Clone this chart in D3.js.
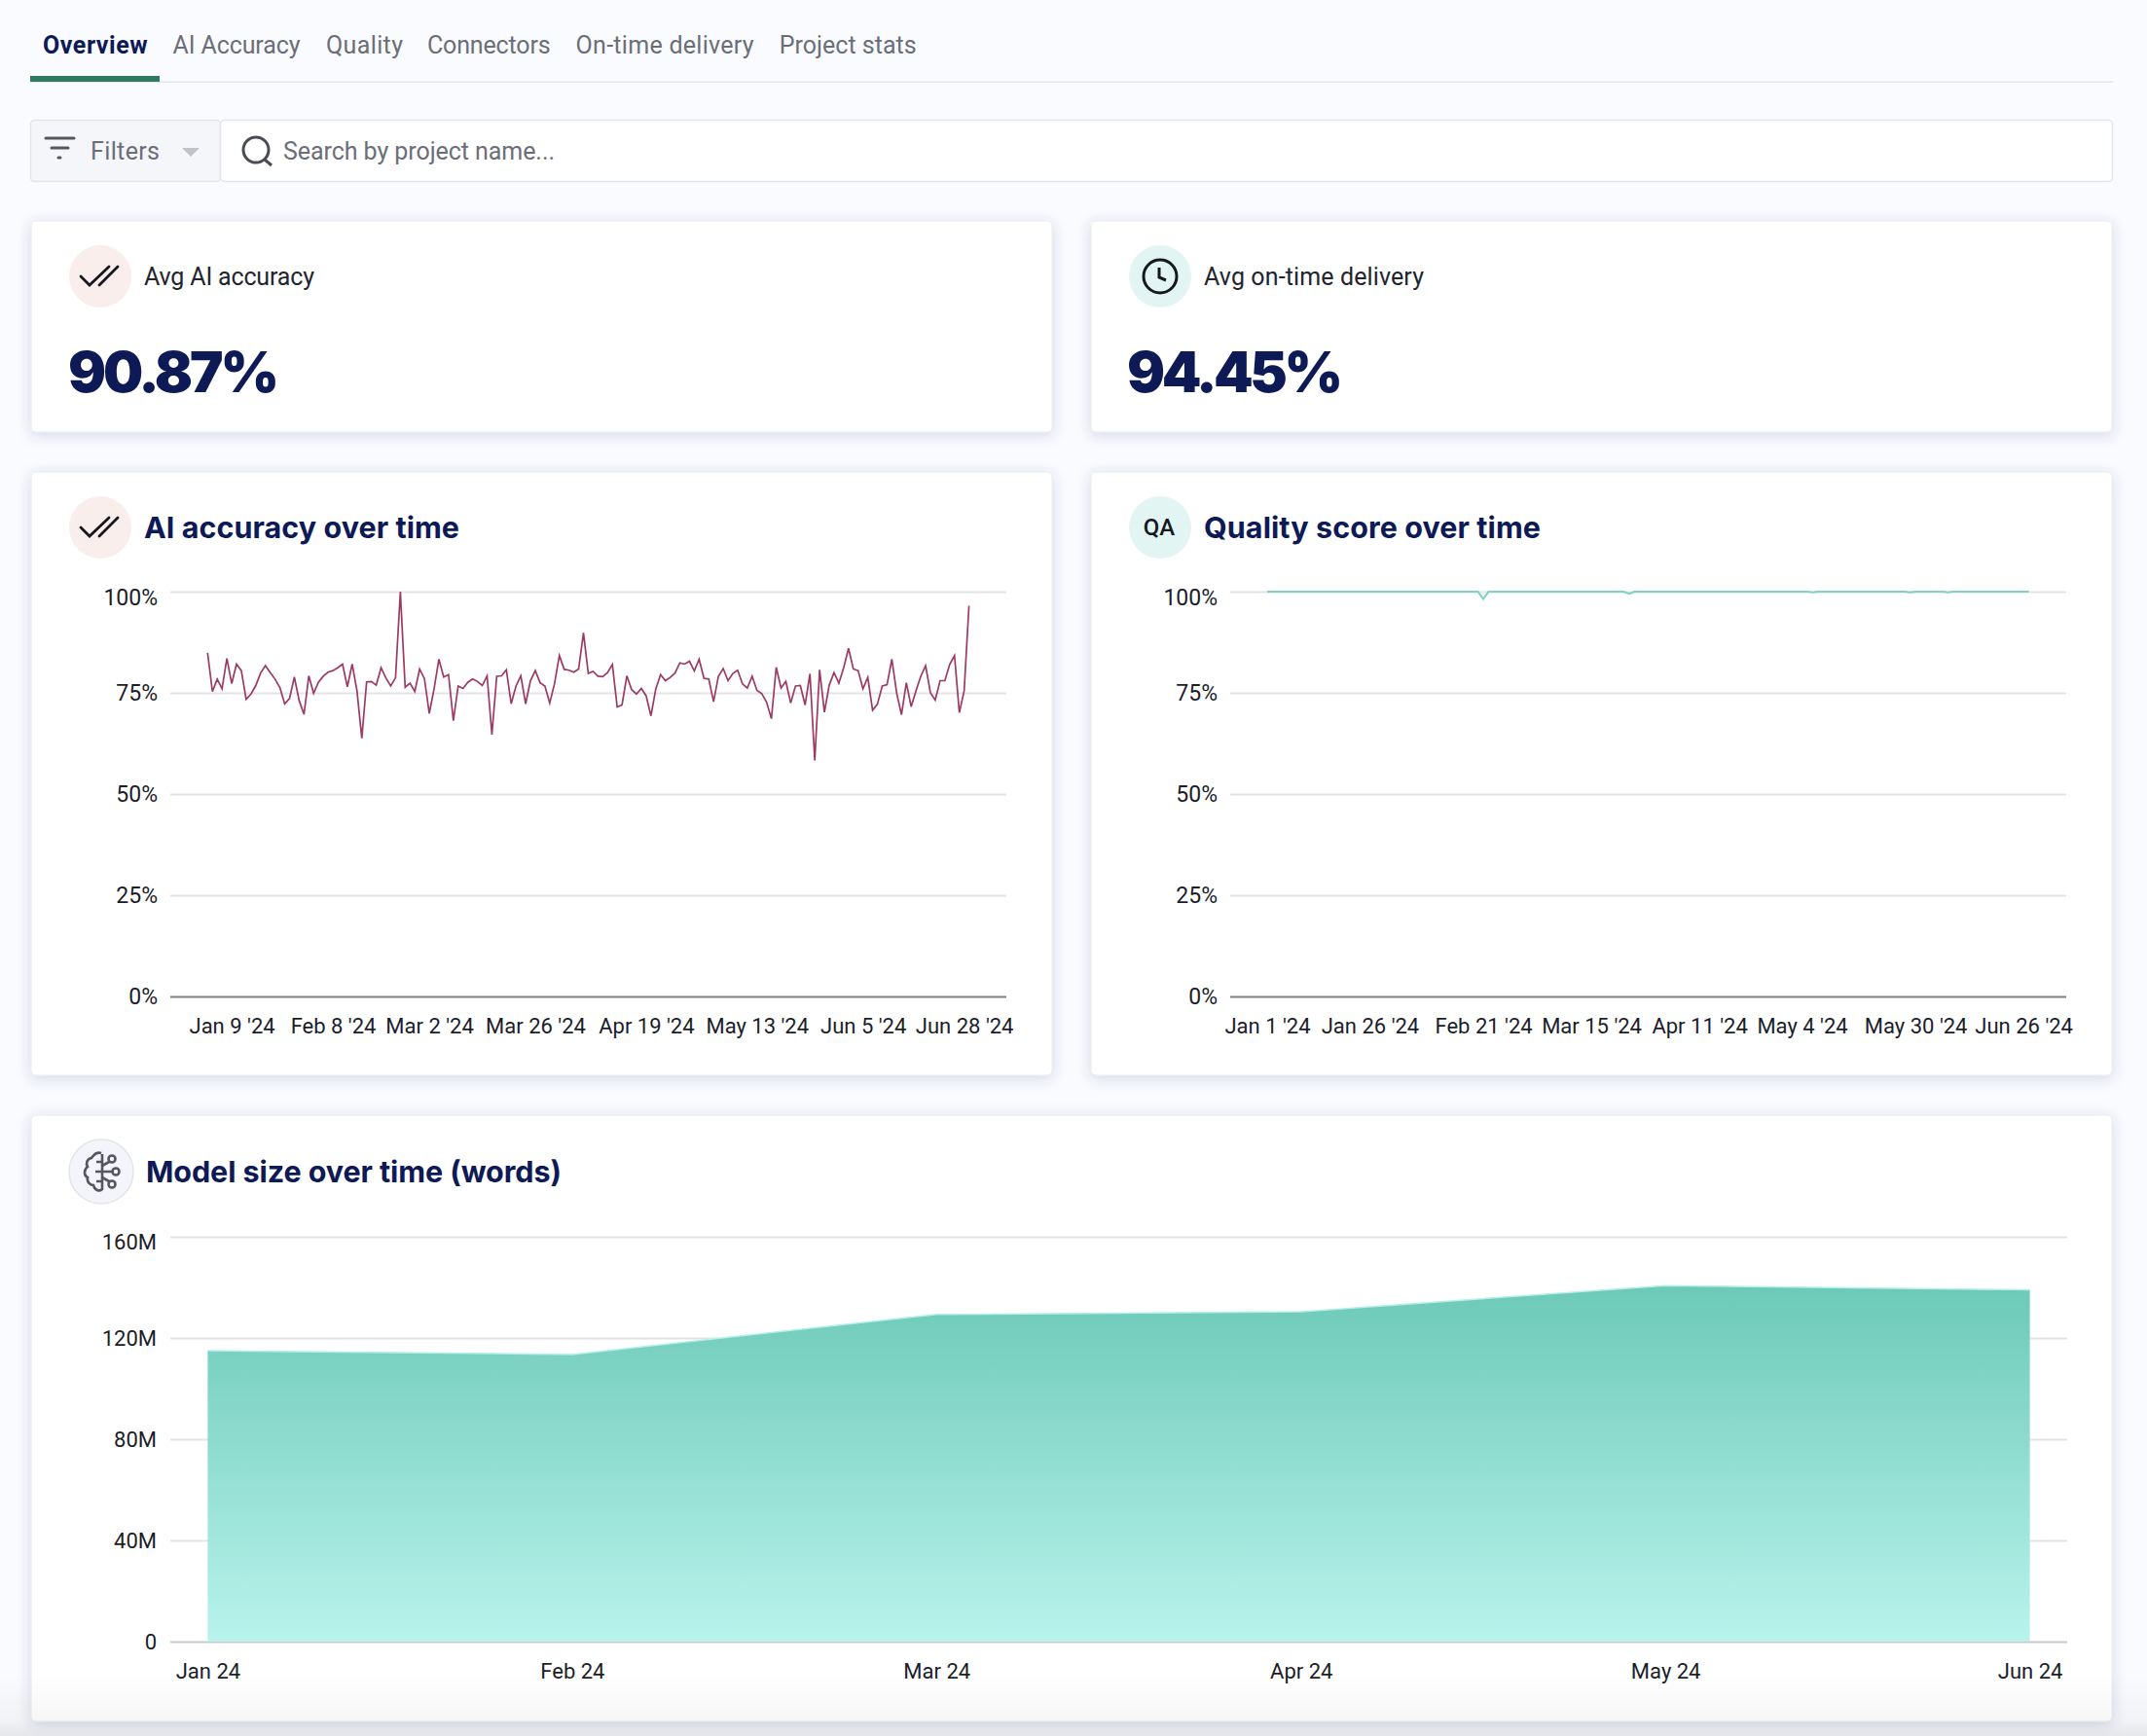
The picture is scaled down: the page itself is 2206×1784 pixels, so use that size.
<!DOCTYPE html>
<html>
<head>
<meta charset="utf-8">
<script src="https://cdn.jsdelivr.net/npm/d3@7"></script>
<style>
  html, body { margin: 0; padding: 0; background: #fafbff; }
  svg { display: block; }
  .axis text { font-family: Roboto, sans-serif; font-size: 22px; fill: #1b1d2a; }
  .axis .domain { display: none; }
  .tab { font-family: Roboto, sans-serif; font-size: 25px; fill: #6b6e78; }
  .card-label { font-family: Roboto, sans-serif; font-size: 25px; fill: #22242e; }
  .card-title { font-family: Inter, sans-serif; font-weight: 700; font-size: 30.5px; fill: #0e1a56; }
  .big-number { font-family: Inter, sans-serif; font-weight: 900; font-size: 58px; fill: #0e1a56; }
</style>
</head>
<body>
<svg id="viz" width="2206" height="1784"></svg>
<script>
const tabs = ["Overview", "AI Accuracy", "Quality", "Connectors", "On-time delivery", "Project stats"];
const tabX = [44, 177.5, 335, 439, 591.6, 800.7];
const tabWidth = [107.6, 131, 79, 126.6, 183, 141];

// AI accuracy, one value per working day
const accuracy = [
  84.9, 75.3, 78.4, 76.0, 83.5, 77.3, 82.1, 80.5, 73.4, 74.7, 76.8, 79.9, 81.7, 80.0, 78.4, 76.3,
  72.3, 73.6, 78.9, 73.1, 69.7, 79.2, 74.9, 77.6, 79.1, 80.1, 80.5, 81.2, 82.1, 76.5, 82.1, 75.5,
  63.8, 77.7, 77.8, 76.9, 81.2, 78.7, 76.7, 78.7, 100, 76.4, 77.4, 75.3, 80.9, 78.5, 69.9, 76.0,
  83.3, 78.9, 79.5, 68.1, 76.7, 76.1, 77.6, 78.4, 77.8, 76.8, 79.2, 64.7, 79.1, 79.2, 80.7, 72.3,
  76.7, 79.2, 72.3, 78.0, 80.5, 77.5, 76.7, 72.5, 77.3, 84.2, 80.8, 80.6, 80.1, 80.9, 89.8, 79.8,
  80.3, 79.1, 79.0, 80.0, 82.0, 71.5, 72.0, 79.2, 75.8, 74.7, 76.1, 74.3, 69.3, 75.9, 79.5, 78.0,
  78.8, 79.9, 82.4, 82.1, 82.8, 80.4, 83.3, 78.6, 78.4, 72.8, 79.1, 81.0, 78.0, 79.8, 80.6, 77.2,
  76.2, 79.1, 75.6, 74.8, 72.7, 68.6, 81.3, 76.2, 77.8, 72.5, 76.7, 76.8, 72.0, 79.7, 58.3, 80.7,
  70.2, 76.9, 80.0, 77.4, 81.2, 86.0, 80.9, 80.5, 76.0, 78.8, 70.7, 72.2, 76.7, 77.0, 83.3, 74.9,
  69.6, 77.5, 71.6, 75.5, 79.1, 81.7, 75.0, 73.2, 78.0, 78.0, 82.0, 84.2, 70.1, 75.5, 96.5
];
const accuracyTickIndex = [5, 26, 46, 68, 91, 114, 136, 157];
const accuracyTickLabels = ["Jan 9 '24", "Feb 8 '24", "Mar 2 '24", "Mar 26 '24", "Apr 19 '24", "May 13 '24", "Jun 5 '24", "Jun 28 '24"];

const quality = [
  100, 100, 100, 100, 100, 100, 100, 100, 100, 100, 100, 100, 100, 100, 100, 100, 100, 100, 100, 100,
  100, 100, 100, 100, 100, 100, 100, 100, 100, 100, 100, 100, 100, 100, 100, 100, 100, 100, 100, 100,
  98.2, 100, 100, 100, 100, 100, 100, 100, 100, 100, 100, 100, 100, 100, 100, 100, 100, 100, 100, 100,
  100, 100, 100, 100, 100, 100, 100, 99.5, 100, 100, 100, 100, 100, 100, 100, 100, 100, 100, 100, 100,
  100, 100, 100, 100, 100, 100, 100, 100, 100, 100, 100, 100, 100, 100, 100, 100, 100, 100, 100, 100,
  100, 99.8, 100, 100, 100, 100, 100, 100, 100, 100, 100, 100, 100, 100, 100, 100, 100, 100, 100, 99.8,
  100, 100, 100, 100, 100, 100, 99.8, 100, 100, 100, 100, 100, 100, 100, 100, 100, 100, 100, 100, 100,
  100, 100
];
const qualityTickIndex = [0, 19, 40, 60, 80, 99, 120, 140];
const qualityTickLabels = ["Jan 1 '24", "Jan 26 '24", "Feb 21 '24", "Mar 15 '24", "Apr 11 '24", "May 4 '24", "May 30 '24", "Jun 26 '24"];

const percentTicks = [0, 25, 50, 75, 100];

const months = ["Jan 24", "Feb 24", "Mar 24", "Apr 24", "May 24", "Jun 24"];
const modelSize = [115000000, 113500000, 129300000, 130400000, 140700000, 139000000];
const modelSizeTicks = [0, 40000000, 80000000, 120000000, 160000000];

const svg = d3.select("#viz");
const defs = svg.append("defs");

const shadow = defs.append("filter").attr("id", "cardShadow")
  .attr("x", "-5%").attr("y", "-10%").attr("width", "110%").attr("height", "125%");
shadow.append("feDropShadow")
  .attr("dx", 0).attr("dy", 3).attr("stdDeviation", 7)
  .attr("flood-color", "#3a4578").attr("flood-opacity", 0.2);

const areaFill = defs.append("linearGradient").attr("id", "areaFill")
  .attr("x1", 0).attr("y1", 0).attr("x2", 0).attr("y2", 1);
areaFill.append("stop").attr("offset", "0%").attr("stop-color", "#6cc9b8");
areaFill.append("stop").attr("offset", "100%").attr("stop-color", "#b8f3ec");

const bottomFade = defs.append("linearGradient").attr("id", "bottomFade")
  .attr("x1", 0).attr("y1", 0).attr("x2", 0).attr("y2", 1);
bottomFade.append("stop").attr("offset", "0%").attr("stop-color", "#000").attr("stop-opacity", 0);
bottomFade.append("stop").attr("offset", "77%").attr("stop-color", "#000").attr("stop-opacity", 0.035);
bottomFade.append("stop").attr("offset", "100%").attr("stop-color", "#000").attr("stop-opacity", 0.08);

svg.append("rect").attr("width", 2206).attr("height", 1784).attr("fill", "#fafbff");

// top tabs
svg.selectAll(".tab").data(tabs).enter().append("text")
  .attr("class", "tab")
  .attr("x", (d, i) => tabX[i])
  .attr("y", 55)
  .attr("textLength", (d, i) => tabWidth[i])
  .style("fill", (d, i) => i === 0 ? "#0e1a56" : null)
  .style("font-weight", (d, i) => i === 0 ? 700 : null)
  .text(d => d);
svg.append("rect").attr("x", 31).attr("y", 83.5).attr("width", 2140).attr("height", 1.5).attr("fill", "#e4e5ec");
svg.append("rect").attr("x", 31).attr("y", 78).attr("width", 133).attr("height", 6).attr("fill", "#2f7a5f");

// filter bar
svg.append("rect").attr("x", 31.5).attr("y", 123.5).attr("width", 195).attr("height", 63).attr("rx", 4)
  .attr("fill", "#f5f6fa").attr("stroke", "#e4e5ec").attr("stroke-width", 1.5);
svg.append("rect").attr("x", 226.5).attr("y", 123.5).attr("width", 1944).attr("height", 63).attr("rx", 4)
  .attr("fill", "#ffffff").attr("stroke", "#e4e5ec").attr("stroke-width", 1.5);
const filterIcon = svg.append("g").attr("stroke", "#55575f").attr("stroke-width", 3).attr("stroke-linecap", "round");
filterIcon.append("line").attr("x1", 47).attr("x2", 76).attr("y1", 142).attr("y2", 142);
filterIcon.append("line").attr("x1", 53).attr("x2", 70).attr("y1", 152).attr("y2", 152);
filterIcon.append("line").attr("x1", 60).attr("x2", 62).attr("y1", 162).attr("y2", 162);
svg.append("text").attr("class", "tab").attr("x", 93).attr("y", 164).attr("textLength", 71).text("Filters");
svg.append("path").attr("d", "M187,152 L205,152 L196,161 Z").attr("fill", "#c0c2c8");
svg.append("circle").attr("cx", 263).attr("cy", 154).attr("r", 13)
  .attr("fill", "none").attr("stroke", "#4a4c55").attr("stroke-width", 3);
svg.append("line").attr("x1", 272).attr("y1", 164).attr("x2", 279).attr("y2", 170)
  .attr("stroke", "#4a4c55").attr("stroke-width", 3);
svg.append("text").attr("class", "tab").attr("x", 291).attr("y", 164).attr("textLength", 279).text("Search by project name...");

function card(x, y, w, h) {
  svg.append("rect").attr("x", x).attr("y", y).attr("width", w).attr("height", h).attr("rx", 5)
    .attr("fill", "#ffffff").attr("stroke", "#e9eaf1").attr("stroke-width", 1).attr("filter", "url(#cardShadow)");
}

function checkIcon(cx, cy) {
  const g = svg.append("g").attr("transform", `translate(${cx},${cy})`)
    .attr("fill", "none").attr("stroke", "#16181f").attr("stroke-width", 2.8).attr("stroke-linecap", "round");
  g.append("path").attr("d", "M-19,0 L-10,9 L10,-10");
  g.append("path").attr("d", "M0,9 L19,-10");
}

function clockIcon(cx, cy) {
  const g = svg.append("g").attr("transform", `translate(${cx},${cy})`)
    .attr("fill", "none").attr("stroke", "#16181f").attr("stroke-width", 3);
  g.append("circle").attr("r", 17);
  g.append("path").attr("d", "M-1,-9 L-1,1 L6,4");
}

function brainIcon(cx, cy) {
  const g = svg.append("g").attr("transform", `translate(${cx},${cy})`)
    .attr("fill", "none").attr("stroke", "#55575f").attr("stroke-width", 2.6);
  g.append("path").attr("d", "M0,-19 C-6,-21 -8,-16 -10,-14 C-15,-13 -16,-8 -14,-5 C-18,-2 -18,4 -14,6 C-15,11 -11,14 -8,14 C-7,19 -2,21 1,18 L1,-18");
  g.append("path").attr("d", "M1,-10 L-5,-10 M1,0 L-6,0 M1,10 L-5,10");
  g.append("path").attr("d", "M1,-6 L8,-10 M1,0 L11,0 M1,6 L8,10");
  g.append("circle").attr("cx", 11).attr("cy", -13).attr("r", 3.5);
  g.append("circle").attr("cx", 15).attr("cy", 0).attr("r", 3.5);
  g.append("circle").attr("cx", 11).attr("cy", 13).attr("r", 3.5);
}

function iconCircle(cx, cy, r, fill, stroke) {
  svg.append("circle").attr("cx", cx).attr("cy", cy).attr("r", r).attr("fill", fill)
    .attr("stroke", stroke || "none").attr("stroke-width", 1.5);
}

// kpi cards
card(32, 227, 1049, 217);
card(1121, 227, 1049, 217);
iconCircle(103, 284, 32, "#f9eeec");
checkIcon(102, 284);
svg.append("text").attr("class", "card-label").attr("x", 148).attr("y", 293).attr("textLength", 175).text("Avg AI accuracy");
svg.append("text").attr("class", "big-number").attr("x", 70).attr("y", 403).attr("textLength", 217).text("90.87%");
iconCircle(1192, 284, 32, "#e3f5f2");
clockIcon(1192, 284);
svg.append("text").attr("class", "card-label").attr("x", 1237).attr("y", 293).attr("textLength", 226).text("Avg on-time delivery");
svg.append("text").attr("class", "big-number").attr("x", 1158).attr("y", 403).attr("textLength", 222).text("94.45%");

// the two percent charts
function lineChart(opts) {
  card(opts.cardX, 485, opts.cardW, 620);
  const y = d3.scaleLinear().domain([0, 100]).range([1024, 608]);
  const x = d3.scaleLinear().domain([0, opts.values.length - 1]).range(opts.lineRange);

  const yAxis = svg.append("g").attr("class", "axis")
    .attr("transform", `translate(${opts.gridRange[0]},0)`)
    .call(d3.axisLeft(y).tickValues(percentTicks).tickFormat(d => d + "%")
      .tickSize(-(opts.gridRange[1] - opts.gridRange[0])).tickPadding(13));
  yAxis.selectAll(".tick line").attr("stroke", d => d === 0 ? "#808080" : "#e4e4ea").attr("stroke-width", 1.8);
  yAxis.selectAll(".tick text").style("font-size", "23px");
  yAxis.selectAll(".tick text").filter(d => d === 100).attr("dy", "0.57em");

  svg.append("g").attr("class", "axis")
    .attr("transform", "translate(0,1024)")
    .call(d3.axisBottom(x).tickValues(opts.tickIndex)
      .tickFormat((d, i) => opts.tickLabels[i]).tickSize(0).tickPadding(22));

  const line = d3.line().x((d, i) => x(i)).y(d => y(d));
  svg.append("path").datum(opts.values)
    .attr("d", line)
    .attr("fill", "none")
    .attr("stroke", opts.color)
    .attr("stroke-width", opts.width);

  iconCircle(opts.iconX, 542, 32, opts.iconFill);
  svg.append("text").attr("class", "card-title").attr("x", opts.titleX).attr("y", 553)
    .attr("textLength", opts.titleWidth).text(opts.title);
}

lineChart({
  cardX: 32, cardW: 1049, values: accuracy, color: "#9c3a66", width: 1.7,
  lineRange: [213.3, 995.6], gridRange: [175, 1034],
  tickIndex: accuracyTickIndex, tickLabels: accuracyTickLabels,
  iconX: 103, iconFill: "#f9eeec", titleX: 148, titleWidth: 324, title: "AI accuracy over time"
});
checkIcon(102, 542);

lineChart({
  cardX: 1121, cardW: 1049, values: quality, color: "#7fd1c1", width: 2,
  lineRange: [1302, 2084.7], gridRange: [1264, 2123],
  tickIndex: qualityTickIndex, tickLabels: qualityTickLabels,
  iconX: 1192, iconFill: "#e3f5f2", titleX: 1237, titleWidth: 346, title: "Quality score over time"
});
svg.append("text").attr("x", 1191).attr("y", 550).attr("text-anchor", "middle")
  .style("font-family", "Roboto, sans-serif").style("font-size", "24px").style("font-weight", 500).style("fill", "#16181f")
  .text("QA");

// model size area chart
card(32, 1146, 2138, 623);
iconCircle(104, 1204, 33, "#f4f5fa", "#e4e5ec");
brainIcon(104, 1204);
svg.append("text").attr("class", "card-title").attr("x", 150).attr("y", 1215)
  .attr("textLength", 427).text("Model size over time (words)");

const yArea = d3.scaleLinear().domain([0, 160000000]).range([1687, 1271]);
const xArea = d3.scalePoint().domain(months).range([213.4, 2085.6]);

const yAreaAxis = svg.append("g").attr("class", "axis")
  .attr("transform", "translate(175,0)")
  .call(d3.axisLeft(yArea).tickValues(modelSizeTicks)
    .tickFormat(d => d === 0 ? "0" : (d / 1000000) + "M")
    .tickSize(-1949).tickPadding(14));
yAreaAxis.selectAll(".tick line").attr("stroke", d => d === 0 ? "#c8c8ce" : "#e4e4ea").attr("stroke-width", 1.8);
yAreaAxis.selectAll(".tick text").filter(d => d === 160000000).attr("dy", "0.57em");

svg.append("g").attr("class", "axis")
  .attr("transform", "translate(0,1687)")
  .call(d3.axisBottom(xArea).tickSize(0).tickPadding(22));

const area = d3.area()
  .x((d, i) => xArea(months[i]))
  .y0(yArea(0))
  .y1(d => yArea(d));
svg.append("path").datum(modelSize).attr("d", area).attr("fill", "url(#areaFill)");
const topLine = d3.line().x((d, i) => xArea(months[i])).y(d => yArea(d));
svg.append("path").datum(modelSize).attr("d", topLine)
  .attr("fill", "none").attr("stroke", "#b5efe8").attr("stroke-width", 1.5);

// page fades out at the very bottom
svg.append("rect").attr("x", 0).attr("y", 1720).attr("width", 2206).attr("height", 64).attr("fill", "url(#bottomFade)");
</script>
</body>
</html>
